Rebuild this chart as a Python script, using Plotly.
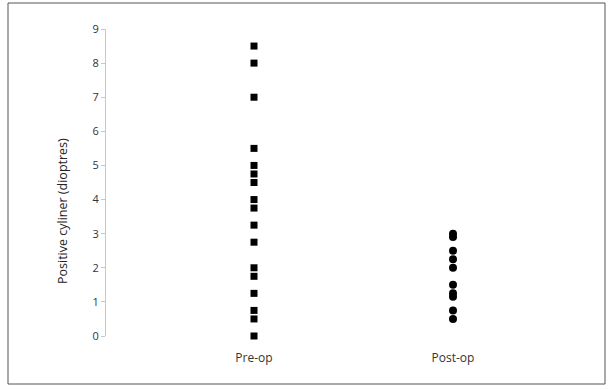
import plotly.graph_objects as go

categories = ["Pre-op", "Post-op"]
pre_op = [8.5, 8.0, 7.0, 5.5, 5.0, 4.75, 4.5, 4.0, 3.75, 3.25, 2.75, 2.0, 1.75, 1.25, 0.75, 0.5, 0.0]
post_op = [3.0, 2.9, 2.5, 2.25, 2.0, 1.5, 1.25, 1.15, 0.75, 0.5]
y_ticks = list(range(0, 10))
y_title = "Positive cyliner (dioptres)"

fig = go.Figure()
fig.add_trace(go.Scatter(
    x=[1] * len(pre_op), y=pre_op, mode="markers", cliponaxis=False,
    marker=dict(symbol="square", size=7, color="black"),
    name=categories[0], showlegend=False))
fig.add_trace(go.Scatter(
    x=[2] * len(post_op), y=post_op, mode="markers", cliponaxis=False,
    marker=dict(symbol="circle", size=8, color="black"),
    name=categories[1], showlegend=False))

L, R, T, B = 106, 28, 29, 54
W, H = 613, 390
pw, ph = W - L - R, H - T - B

fig.update_layout(
    width=W, height=H,
    margin=dict(l=L, r=R, t=T, b=B),
    paper_bgcolor="white", plot_bgcolor="white",
    font=dict(family="Open Sans, Noto Sans, sans-serif", color="#333333"),
    xaxis=dict(
        range=[1 - 148 / 199, 2 + (W - R - 453) / 199],
        tickvals=[1, 2], ticktext=categories,
        showgrid=False, zeroline=False, showline=False, ticks="",
        tickfont=dict(size=12, color="#333333"),
        ticklabelstandoff=13,
    ),
    yaxis=dict(
        range=[0, 9], tickvals=y_ticks,
        showgrid=False, zeroline=False,
        showline=True, linecolor="#c8c8c8", linewidth=1,
        ticks="outside", ticklen=4, tickcolor="#c8c8c8",
        tickfont=dict(size=11, color="#333333"),
    ),
    annotations=[dict(
        text=y_title, textangle=-90, showarrow=False,
        xref="paper", yref="paper",
        x=(62 - L) / pw, y=(H - B - 211) / ph,
        xanchor="center", yanchor="middle",
        font=dict(size=12.5, color="#222222"))],
    shapes=[dict(
        type="rect", xref="paper", yref="paper",
        x0=(8 - L) / pw, x1=(605 - L) / pw,
        y0=(H - B - 384) / ph, y1=(H - B - 3) / ph,
        line=dict(color="#555555", width=1), fillcolor="rgba(0,0,0,0)", layer="below")],
)

fig.write_html("out.html", config={"displayModeBar": False},
               post_script="document.body.style.margin='0';document.body.style.overflow='hidden';")
